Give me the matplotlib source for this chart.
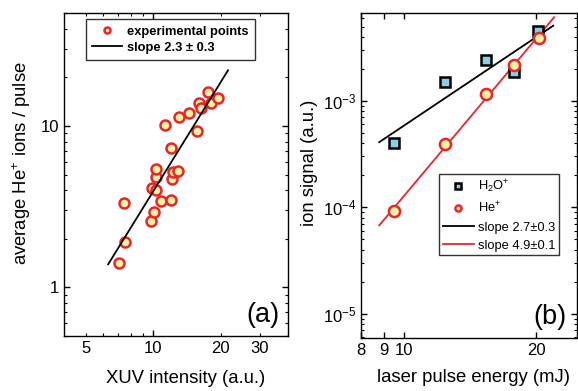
import numpy as np
import matplotlib
matplotlib.use("Agg")
import matplotlib.pyplot as plt
from matplotlib.ticker import LogLocator, NullFormatter, FixedLocator, FixedFormatter, NullLocator

plt.rcParams['font.family'] = ['Liberation Sans', 'DejaVu Sans']
plt.rcParams['mathtext.fontset'] = 'custom'
plt.rcParams['mathtext.rm'] = 'Liberation Sans'
plt.rcParams['mathtext.it'] = 'Liberation Sans:italic'
plt.rcParams['mathtext.bf'] = 'Liberation Sans:bold'

# ---- panel (a) data ----
xuv_intensity = [7.03, 7.38, 7.48, 9.77, 10.13, 9.93, 10.28, 10.28, 10.28, 10.8,
                 11.97, 11.3, 12.05, 12.2, 12.27, 12.86, 13.0, 14.4, 15.7, 16.1,
                 16.4, 17.5, 18.2, 19.5]
he_ions = [1.41, 3.31, 1.90, 2.56, 2.92, 4.10, 4.0, 4.80, 5.40, 3.45,
           3.48, 10.2, 7.28, 4.68, 5.15, 5.27, 11.3, 12.1, 9.36, 13.8,
           12.9, 16.2, 13.95, 14.8]
fit_a_x = [6.3, 21.6]
fit_a_y = [1.39, 22.1]
xticks_a = [5, 6, 7, 8, 9, 20, 30, 40]
xticklabels_a = ['5', '', '', '', '', '20', '30', '']

# ---- panel (b) data ----
pulse_energy = [9.53, 12.45, 15.4, 17.8, 20.2]
h2o_signal = [4.06e-4, 1.5e-3, 2.41e-3, 1.85e-3, 4.5e-3]
he_energy = [9.53, 12.45, 15.4, 17.8, 20.3]
he_signal = [9.2e-5, 3.97e-4, 1.15e-3, 2.16e-3, 3.94e-3]
fit_h2o_x = [8.8, 21.9]
fit_h2o_y = [4.09e-4, 5.09e-3]
fit_he_x = [8.8, 22.0]
fit_he_y = [6.75e-5, 6.12e-3]
xticks_b = [8, 9, 10, 20]
yticks_b = [1e-5, 1e-4, 1e-3]
yticklabels_b = ['$10^{-5}$', '$10^{-4}$', '$10^{-3}$']

RED = '#E8262A'
YEL = '#FFF2A2'
BLUE = '#8CCDEA'
LABEL_FS = 13.3
TICK_FS = 12

fig = plt.figure(figsize=(5.78, 3.91), dpi=100)
axa = fig.add_axes([0.1107, 0.1407, 0.3875, 0.826])
axb = fig.add_axes([0.6246, 0.1355, 0.3737, 0.8313])

for ax in (axa, axb):
    ax.set_xscale('log')
    ax.set_yscale('log')
    for s in ax.spines.values():
        s.set_linewidth(1.0)
    ax.tick_params(which='both', direction='in', top=True, right=True, labelsize=TICK_FS)
    ax.tick_params(which='major', length=4.5, width=1.0)
    ax.tick_params(which='minor', length=2.5, width=0.8)

# ---- panel (a) ----
axa.plot(xuv_intensity, he_ions, 'o', ms=7.2, mfc=YEL, mec=RED, mew=1.8,
         label='experimental points', zorder=3)
axa.plot(fit_a_x, fit_a_y, '-', color='black', lw=1.3, label='slope 2.3 ± 0.3', zorder=4)
axa.set_xlim(4, 40)
axa.set_ylim(0.5, 50)
axa.xaxis.set_major_locator(FixedLocator([10]))
axa.xaxis.set_major_formatter(FixedFormatter(['10']))
axa.xaxis.set_minor_locator(FixedLocator(xticks_a))
axa.xaxis.set_minor_formatter(FixedFormatter(xticklabels_a))
axa.tick_params(axis='x', which='minor', labelsize=TICK_FS)
axa.yaxis.set_major_locator(FixedLocator([1, 10]))
axa.yaxis.set_major_formatter(FixedFormatter(['1', '10']))
axa.yaxis.set_minor_locator(LogLocator(base=10, subs=np.arange(2, 10), numticks=20))
axa.yaxis.set_minor_formatter(NullFormatter())
axa.set_xlabel('XUV intensity (a.u.)', fontsize=LABEL_FS)
axa.set_ylabel('average He$^{+}$ ions / pulse', fontsize=LABEL_FS)
axa.xaxis.set_label_coords(0.542, -0.105)
axa.yaxis.set_label_coords(-0.138, 0.536)
axa.text(0.96, 0.025, '(a)', transform=axa.transAxes, ha='right', va='bottom', fontsize=19.5)
leg = axa.legend(loc='upper left', bbox_to_anchor=(0.098, 0.981), borderaxespad=0,
                 frameon=True, fancybox=False, edgecolor='black',
                 prop={'weight': 'bold', 'size': 9.3}, markerscale=0.6,
                 handlelength=2.3, borderpad=0.5, labelspacing=0.3, handletextpad=0.35)
leg.get_frame().set_linewidth(1.0)

# ---- panel (b) ----
axb.plot(pulse_energy, h2o_signal, 's', ms=7, mfc=BLUE, mec='black', mew=1.8,
         label='H$_2$O$^{+}$', zorder=3)
axb.plot(he_energy, he_signal, 'o', ms=8, mfc=YEL, mec=RED, mew=1.8,
         label='He$^{+}$', zorder=4)
axb.plot(fit_h2o_x, fit_h2o_y, '-', color='black', lw=1.3, label='slope 2.7±0.3', zorder=2)
axb.plot(fit_he_x, fit_he_y, '-', color=RED, lw=1.3, label='slope 4.9±0.1', zorder=2)
axb.set_xlim(8, 24.8)
axb.set_ylim(5.9e-6, 6.7e-3)
axb.xaxis.set_major_locator(FixedLocator(xticks_b))
axb.xaxis.set_major_formatter(FixedFormatter([str(v) for v in xticks_b]))
axb.xaxis.set_minor_locator(NullLocator())
axb.yaxis.set_major_locator(FixedLocator(yticks_b))
axb.yaxis.set_major_formatter(FixedFormatter(yticklabels_b))
axb.yaxis.set_minor_locator(LogLocator(base=10, subs=np.arange(2, 10), numticks=20))
axb.yaxis.set_minor_formatter(NullFormatter())
axb.set_xlabel('laser pulse energy (mJ)', fontsize=LABEL_FS)
axb.set_ylabel('ion signal (a.u.)', fontsize=LABEL_FS)
axb.xaxis.set_label_coords(0.519, -0.095)
axb.yaxis.set_label_coords(-0.199, 0.538)
axb.text(0.95, 0.025, '(b)', transform=axb.transAxes, ha='right', va='bottom', fontsize=19.5)
legb = axb.legend(loc='upper left', bbox_to_anchor=(0.361, 0.505), borderaxespad=0,
                  frameon=True, fancybox=False, edgecolor='black',
                  prop={'size': 9.3}, markerscale=0.55,
                  handlelength=2.4, borderpad=0.3, labelspacing=0.45, handletextpad=0.3)
legb.get_frame().set_linewidth(1.0)

fig.savefig('out.png', dpi=100)
